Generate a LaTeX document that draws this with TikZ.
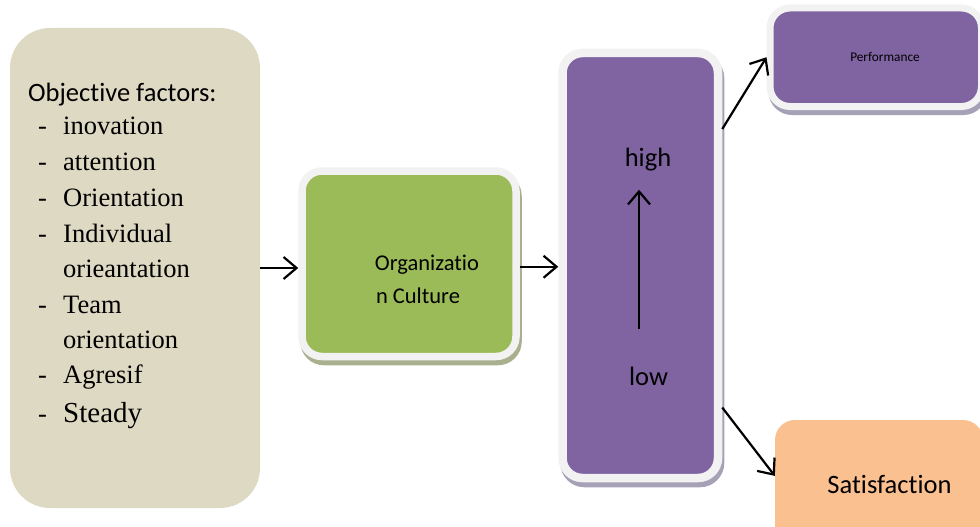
\documentclass[tikz,border=0pt]{standalone}
\usepackage{fontspec}
\setmainfont{Carlito}[Ligatures=NoCommon]
\newfontfamily\listfont{Liberation Serif}
\usetikzlibrary{arrows.meta,shadows}
\definecolor{beige}{HTML}{DDD9C3}
\definecolor{leafgreen}{HTML}{9BBB59}
\definecolor{violet}{HTML}{8064A2}
\definecolor{peach}{HTML}{FAC090}
\definecolor{framegray}{HTML}{F2F2F2}
\definecolor{violetshade}{HTML}{A7A1B7}
\definecolor{greenshade}{HTML}{A8B08E}
\tikzset{
  arr/.style={line width=2.2pt,-{Straight Barb[length=13pt,width=22pt]}},
  framed/.style={draw=framegray,rounded corners=20pt,inner sep=0pt,
    drop shadow={shadow xshift=2pt,shadow yshift=-5pt,fill=#1,draw=#1,opacity=1}},
  bigtext/.style={font=\fontsize{26.5}{32}\selectfont,anchor=base,inner sep=0pt},
  dashmark/.style={font=\listfont\fontsize{26.5}{32}\selectfont,anchor=base west,inner sep=0pt},
  listitem/.style={dashmark}
}
\begin{document}
\begin{tikzpicture}[x=1pt,y=-1pt]
\clip (0,0) rectangle (980,527);
% objective factors
\node [fill=beige,rounded corners=40pt,minimum width=250pt,minimum height=480pt] (factors) at (135,268) {};
\node [bigtext,anchor=base west] (title) at (28,102) {Objective factors:};
\node [dashmark] (d1) at (38,134) {-};
\node [listitem] (i1) at (63,134) {inovation};
\node [dashmark] (d2) at (38,170) {-};
\node [listitem] (i2) at (63,170) {attention};
\node [dashmark] (d3) at (38,206) {-};
\node [listitem] (i3) at (63,206) {Orientation};
\node [dashmark] (d4) at (38,242) {-};
\node [listitem] (i4) at (63,242) {Individual};
\node [listitem] (i4b) at (63,277) {orieantation};
\node [dashmark] (d5) at (38,313) {-};
\node [listitem] (i5) at (63,313) {Team};
\node [listitem] (i5b) at (63,348) {orientation};
\node [dashmark] (d6) at (38,383) {-};
\node [listitem] (i6) at (63,383) {Agresif};
\node [dashmark] (d7) at (38,422) {-};
\node [listitem,font=\listfont\fontsize{29}{34}\selectfont] (i7) at (63,422) {Steady};
% culture
\node [framed=greenshade,fill=leafgreen,line width=7.5pt,minimum width=214pt,minimum height=185.5pt] (culture) at (409,263.75) {};
\node [bigtext,font=\fontsize{22.5}{28}\selectfont] (org1) at (427,270) {Organizatio};
\node [bigtext,font=\fontsize{22.5}{28}\selectfont] (org2) at (418,303) {n Culture};
% level
\node [framed=violetshade,fill=violet,line width=8.5pt,minimum width=155.5pt,minimum height=425pt] (level) at (640.25,265.5) {};
\node [bigtext] (high) at (648,166) {high};
\node [bigtext] (low) at (648.5,385) {low};
% results
\node [framed=violetshade,fill=violet,line width=7pt,minimum width=211.5pt,minimum height=98.5pt] (perf) at (875.75,57.25) {};
\node [bigtext,font=\fontsize{13.3}{16}\selectfont] (perftext) at (885,62) {Performance};
\node [fill=peach,rounded corners=20pt,minimum width=208pt,minimum height=130pt] (sat) at (879,485) {};
\node [bigtext] (sattext) at (889.5,493) {Satisfaction};
% arrows
\draw [arr] (factors.east) -- (factors.east -| culture.west);
\draw [arr] ([yshift=-3pt]culture.east) -- ([yshift=-3pt]culture.east -| level.west);
\draw [arr] ([xshift=-9.5pt,yshift=37pt]low.north) -- ([xshift=-9pt,yshift=-19pt]high.south);
\draw [arr] (level.59) -- (perf.west);
\draw [arr] (level.-60) -- (sat.175);
\end{tikzpicture}
\end{document}
